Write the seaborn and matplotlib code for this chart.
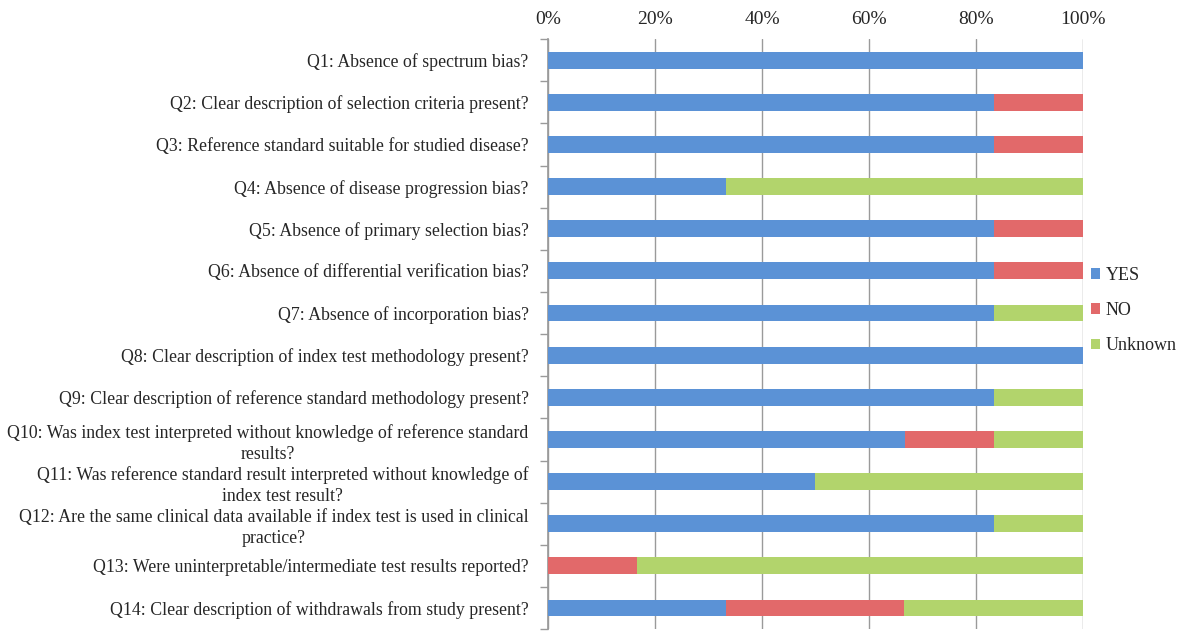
import matplotlib.pyplot as plt
import seaborn as sns
import pandas as pd
import numpy as np

questions = [
    'Q1: Absence of spectrum bias?',
    'Q2: Clear description of selection criteria present?',
    'Q3: Reference standard suitable for studied disease?',
    'Q4: Absence of disease progression bias?',
    'Q5: Absence of primary selection bias?',
    'Q6: Absence of differential verification bias?',
    'Q7: Absence of incorporation bias?',
    'Q8: Clear description of index test methodology present?',
    'Q9: Clear description of reference standard methodology present?',
    'Q10: Was index test interpreted without knowledge of reference standard\nresults?',
    'Q11: Was reference standard result interpreted without knowledge of\nindex test result?',
    'Q12: Are the same clinical data available if index test is used in clinical\npractice?',
    'Q13: Were uninterpretable/intermediate test results reported?',
    'Q14: Clear description of withdrawals from study present?',
]
yes = [100, 83.3, 83.3, 33.3, 83.3, 83.3, 83.3, 100, 83.3, 66.7, 50, 83.3, 0, 33.3]
no = [0, 16.7, 16.7, 0, 16.7, 16.7, 0, 0, 0, 16.7, 0, 0, 16.7, 33.3]
unknown = [0, 0, 0, 66.7, 0, 0, 16.7, 0, 16.7, 16.6, 50, 16.7, 83.3, 33.4]

df = pd.DataFrame({'Question': questions, 'YES': yes, 'NO': no, 'Unknown': unknown})
df['yes_no'] = df['YES'] + df['NO']
df['total'] = df['yes_no'] + df['Unknown']

sns.set_theme(style="white")
plt.rcParams['font.family'] = ['Liberation Serif', 'DejaVu Serif']

fig = plt.figure(figsize=(11.84, 6.31), dpi=100)
ax = fig.add_axes([0.4628, 0.003, 0.4519, 0.935])

blue, red, green = '#5b92d6', '#e2696a', '#b2d46c'
kw = dict(y='Question', data=df, width=0.4, ax=ax, saturation=1, linewidth=0, zorder=3)
sns.barplot(x='total', color=green, label='Unknown', **kw)
sns.barplot(x='yes_no', color=red, label='NO', **kw)
sns.barplot(x='YES', color=blue, label='YES', **kw)

ax.set_xlim(0, 100)
ax.set_ylim(len(questions) - 0.5, -0.5)
ax.set_xticks(np.arange(0, 101, 20))
ax.set_xticklabels([f'{v}%' for v in range(0, 101, 20)], fontsize=14)
ax.xaxis.tick_top()
ax.tick_params(axis='x', length=0, pad=8)
ax.tick_params(axis='y', length=0, pad=14, labelsize=12.8)
for t in ax.get_yticklabels():
    t.set_multialignment('center')
    t.set_linespacing(1.3)
ax.set_yticks(np.arange(-0.5, len(questions), 1), minor=True)
ax.tick_params(axis='y', which='minor', length=6, color='#9a9a9a', width=1, left=True)
ax.grid(axis='x', color='#9a9a9a', lw=1, zorder=0)
ax.set_xlabel('')
ax.set_ylabel('')
for s in ['top', 'right', 'bottom']:
    ax.spines[s].set_visible(False)
ax.spines['left'].set_color('#9a9a9a')

h, l = ax.get_legend_handles_labels()
order = [l.index('YES'), l.index('NO'), l.index('Unknown')]
ax.legend([h[i] for i in order], [l[i] for i in order], loc='center left',
          bbox_to_anchor=(0.995, 0.54), borderaxespad=0.2, frameon=False, fontsize=13,
          handlelength=0.5, handleheight=0.5, handletextpad=0.3, labelspacing=1.0)

plt.savefig('out.png', dpi=100)
